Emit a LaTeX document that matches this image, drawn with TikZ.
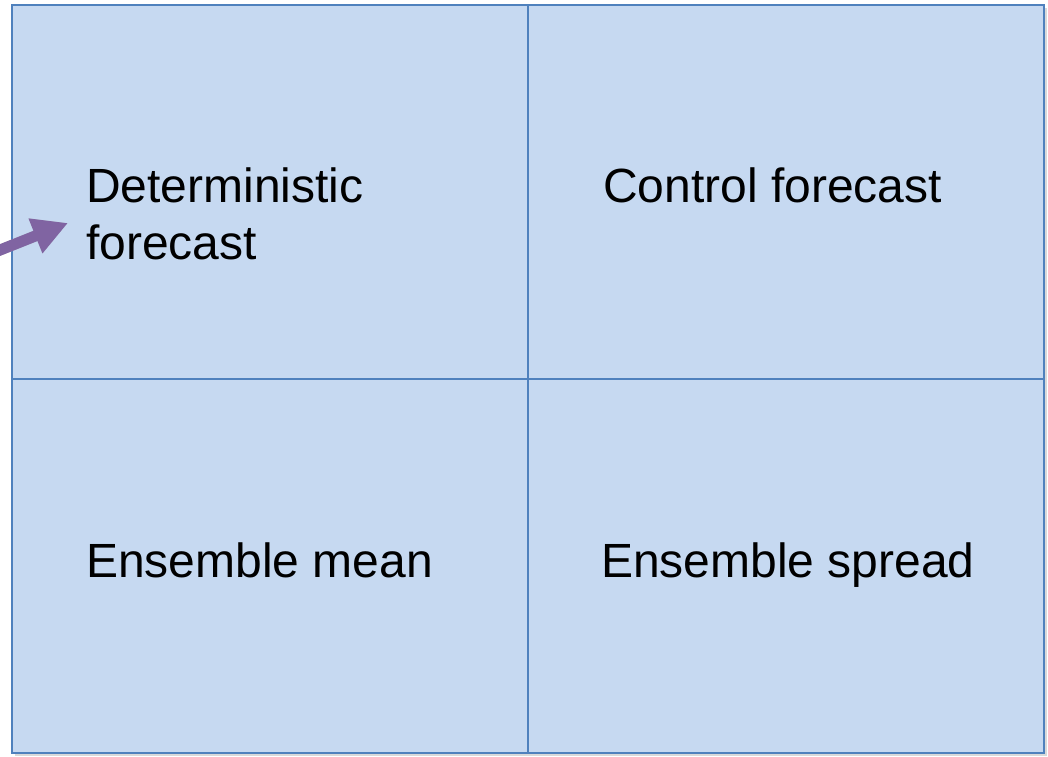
\documentclass[tikz,border=0pt]{standalone}
\usepackage{fontspec}
\setmainfont{Liberation Sans}
\usetikzlibrary{arrows.meta}
\definecolor{cellfill}{HTML}{C6D9F1}
\definecolor{cellline}{HTML}{4F81BD}
\definecolor{pointer}{HTML}{8064A2}
\tikzset{
  label text/.style={inner sep=0pt, font=\fontsize{48}{57}\selectfont, align=left, text=black},
  grid line/.style={draw=cellline, line width=2.8pt},
  pointer arrow/.style={draw=pointer, line width=11pt,
    -{Triangle[length=35pt, width=35pt]}}
}
\begin{document}
\begin{tikzpicture}[x=1pt, y=1pt]
  \useasboundingbox (0,0) rectangle (1048,756);
  \clip (0,0) rectangle (1048,756);
  % soft shadow behind the table
  \fill[black!25, opacity=0.6] (15,0) rectangle (1047,748);
  % table of four cells
  \fill[cellfill] (12,3) rectangle (1044,751);
  \draw[grid line] (528,3) -- (528,751);
  \draw[grid line] (12,377) -- (1044,377);
  \draw[grid line] (12,3) rectangle (1044,751);
  % cell labels
  \node[label text, anchor=north west] (det) at (86,588) {Deterministic\\forecast};
  \node[label text, anchor=base west] (ctrl) at (603,553) {Control forecast};
  \node[label text, anchor=base west] (mean) at (86,179) {Ensemble mean};
  \node[label text, anchor=base west] (spread) at (601,179) {Ensemble spread};
  % pointer entering from the left edge
  \coordinate (src) at (-20,498);
  \coordinate (tip) at (68,533);
  \draw[pointer arrow, draw=black!30, opacity=0.5, shift={(1.5pt,-2pt)}] (src) -- (tip);
  \draw[pointer arrow] (src) -- (tip);
\end{tikzpicture}
\end{document}
